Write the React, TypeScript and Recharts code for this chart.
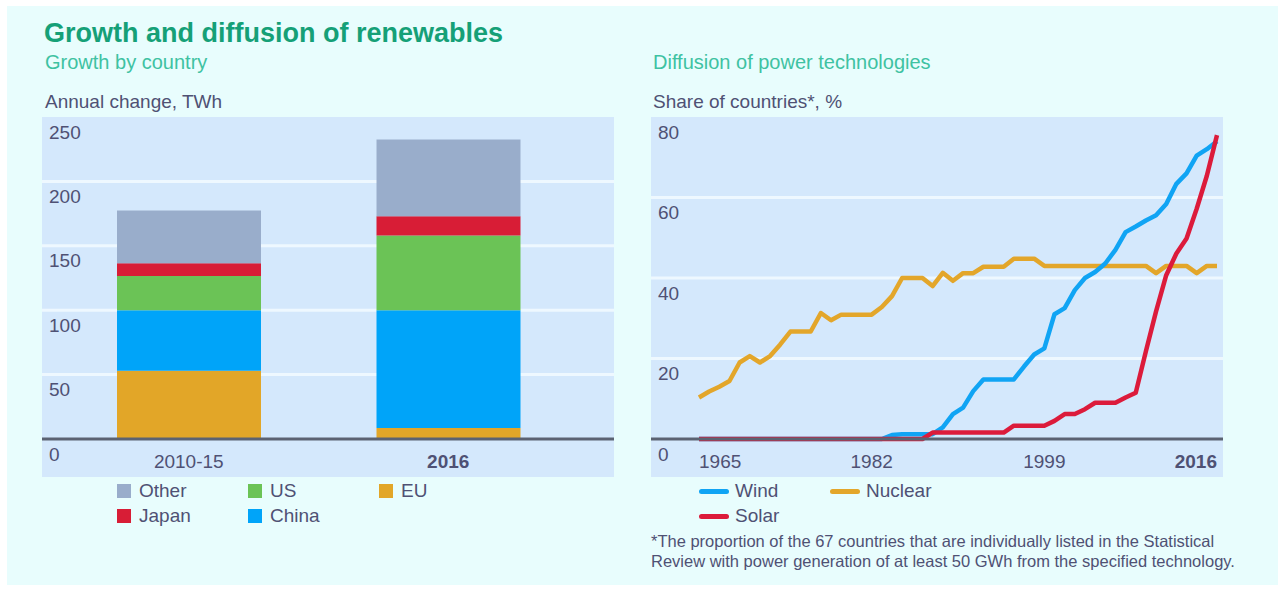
import React from 'react';
import {
  BarChart, Bar, LineChart, Line, XAxis, YAxis, CartesianGrid,
} from 'recharts';

// Growth by country, annual change in TWh
const periods = ['2010-15', '2016'];
const euValues = [53, 8.5];
const chinaValues = [47, 91.5];
const usValues = [26.5, 58];
const japanValues = [10, 15];
const otherValues = [41, 59.5];
const growthTicks = [0, 50, 100, 150, 200, 250];

// Diffusion of power technologies, share of countries (%)
const years = [
  1965, 1966, 1967, 1968, 1969, 1970, 1971, 1972, 1973, 1974, 1975, 1976, 1977,
  1978, 1979, 1980, 1981, 1982, 1983, 1984, 1985, 1986, 1987, 1988, 1989, 1990,
  1991, 1992, 1993, 1994, 1995, 1996, 1997, 1998, 1999, 2000, 2001, 2002, 2003,
  2004, 2005, 2006, 2007, 2008, 2009, 2010, 2011, 2012, 2013, 2014, 2015, 2016,
];
const nuclearShare = [
  10.3, 11.8, 13, 14.4, 19, 20.6, 19, 20.6, 23.5, 26.7, 26.7, 26.7, 31.3,
  29.5, 30.9, 30.9, 30.9, 30.9, 32.8, 35.5, 40, 40, 40, 38, 41.3, 39.3,
  41.2, 41.2, 42.8, 42.8, 42.8, 44.8, 44.8, 44.8, 43, 43, 43, 43, 43,
  43, 43, 43, 43, 43, 43, 41.2, 43, 43, 43, 41.2, 43, 43,
];
const windShare = [
  0, 0, 0, 0, 0, 0, 0, 0, 0, 0, 0, 0, 0,
  0, 0, 0, 0, 0, 0, 1, 1.2, 1.2, 1.2, 1.2, 2.9, 6.2,
  7.8, 11.9, 14.8, 14.8, 14.8, 14.8, 18, 21, 22.5, 31, 32.5, 37, 40,
  41.5, 43.6, 47, 51.4, 52.8, 54.3, 55.6, 58.4, 63.4, 66, 70.4, 72, 74,
];
const solarShare = [
  0, 0, 0, 0, 0, 0, 0, 0, 0, 0, 0, 0, 0,
  0, 0, 0, 0, 0, 0, 0, 0, 0, 0, 1.6, 1.6, 1.6,
  1.6, 1.6, 1.6, 1.6, 1.6, 3.3, 3.3, 3.3, 3.3, 4.5, 6.2, 6.2, 7.4,
  9, 9, 9, 10.3, 11.5, 21.8, 31.7, 40.7, 46.1, 49.8, 57.2, 65.4, 75.5,
];
const shareTicks = [0, 20, 40, 60, 80];
const yearTicks = [1965, 1982, 1999, 2016];

const growthData = periods.map((p, i) => ({
  period: p,
  EU: euValues[i],
  China: chinaValues[i],
  US: usValues[i],
  Japan: japanValues[i],
  Other: otherValues[i],
}));

const diffusionData = years.map((y, i) => ({
  year: y,
  Wind: windShare[i],
  Nuclear: nuclearShare[i],
  Solar: solarShare[i],
}));

const FONT = '"Liberation Sans", Arial, sans-serif';
const TEXT = '#4f5174';
const PANEL = '#d4e8fc';
const GRID = '#eef8ff';
const AXIS = '#5b6272';

const COLORS = {
  Other: '#99adcb',
  Japan: '#d81d36',
  US: '#6bc356',
  China: '#00a4f9',
  EU: '#e2a628',
  Wind: '#10a4f4',
  Nuclear: '#e3a62a',
  Solar: '#dc1b3b',
};

// value labels sit inside the panel, just under each gridline
const YTick = (props: any) => {
  const { y, payload } = props;
  return (
    <text x={7} y={Number(y) + 15} fill={TEXT} fontSize={19} fontFamily={FONT} dominantBaseline="central">
      {payload.value}
    </text>
  );
};

const CatTick = (props: any) => {
  const { x, payload } = props;
  const bold = payload.value === '2016';
  return (
    <text x={x} y={344} fill={TEXT} fontSize={19} fontFamily={FONT} textAnchor="middle"
      dominantBaseline="central" fontWeight={bold ? 'bold' : 'normal'}>
      {payload.value}
    </text>
  );
};

const YearTick = (props: any) => {
  const { x, payload, index } = props;
  const anchor = index === 0 ? 'start' : index === yearTicks.length - 1 ? 'end' : 'middle';
  const bold = payload.value === 2016;
  return (
    <text x={x} y={344} fill={TEXT} fontSize={19} fontFamily={FONT} textAnchor={anchor}
      dominantBaseline="central" fontWeight={bold ? 'bold' : 'normal'}>
      {payload.value}
    </text>
  );
};

const abs = (left: number, top: number, extra: React.CSSProperties = {}): React.CSSProperties => ({
  position: 'absolute', left, top, whiteSpace: 'nowrap', ...extra,
});

const Swatch = ({ left, top, color, label }: { left: number; top: number; color: string; label: string }) => (
  <div style={abs(left, top, { display: 'flex', alignItems: 'center', fontSize: 19, color: TEXT })}>
    <span style={{ width: 14, height: 14, background: color, display: 'inline-block', marginRight: 8 }} />
    {label}
  </div>
);

const LineSwatch = ({ left, top, color, label }: { left: number; top: number; color: string; label: string }) => (
  <div style={abs(left, top, { display: 'flex', alignItems: 'center', fontSize: 19, color: TEXT })}>
    <span style={{ width: 30, height: 5, borderRadius: 3, background: color, display: 'inline-block', marginRight: 6 }} />
    {label}
  </div>
);

export default function App() {
  return (
    <div style={{ position: 'absolute', left: 0, top: 0, width: 1278, height: 589, background: '#ffffff', fontFamily: FONT }}>
      <div style={abs(7, 6, { width: 1271, height: 579, background: '#e8fdfd' })} />

      <div style={abs(44, 18, { fontSize: 27, fontWeight: 'bold', color: '#15a077' })}>
        Growth and diffusion of renewables
      </div>
      <div style={abs(45, 51, { fontSize: 20, color: '#3ec2a2' })}>Growth by country</div>
      <div style={abs(653, 51, { fontSize: 20, color: '#3ec2a2' })}>Diffusion of power technologies</div>
      <div style={abs(45, 91, { fontSize: 19, color: TEXT })}>Annual change, TWh</div>
      <div style={abs(653, 91, { fontSize: 19, color: TEXT })}>Share of countries*, %</div>

      <div style={abs(42, 117, { width: 572, height: 360, background: PANEL })}>
        <BarChart width={572} height={360} data={growthData}
          margin={{ top: 0, right: 0, bottom: 0, left: 0 }}>
          <CartesianGrid vertical={false} stroke={GRID} strokeWidth={3}
            horizontalValues={[50, 100, 150, 200]} />
          <XAxis dataKey="period" height={38} tickLine={false} interval={0}
            padding={{ left: 17, right: 36 }}
            axisLine={{ stroke: AXIS, strokeWidth: 3 }} tick={<CatTick />} />
          <YAxis mirror width={40} domain={[0, 250]} ticks={growthTicks} interval={0}
            axisLine={false} tickLine={false} tick={<YTick />} />
          <Bar dataKey="EU" stackId="a" fill={COLORS.EU} barSize={144} isAnimationActive={false} />
          <Bar dataKey="China" stackId="a" fill={COLORS.China} barSize={144} isAnimationActive={false} />
          <Bar dataKey="US" stackId="a" fill={COLORS.US} barSize={144} isAnimationActive={false} />
          <Bar dataKey="Japan" stackId="a" fill={COLORS.Japan} barSize={144} isAnimationActive={false} />
          <Bar dataKey="Other" stackId="a" fill={COLORS.Other} barSize={144} isAnimationActive={false} />
        </BarChart>
      </div>

      <div style={abs(651, 117, { width: 572, height: 360, background: PANEL })}>
        <LineChart width={572} height={360} data={diffusionData}
          margin={{ top: 0, right: 0, bottom: 0, left: 0 }}>
          <CartesianGrid vertical={false} stroke={GRID} strokeWidth={3}
            horizontalValues={[20, 40, 60]} />
          <XAxis dataKey="year" type="number" domain={[1965, 2016]} ticks={yearTicks}
            height={38} tickLine={false} interval={0} padding={{ left: 48, right: 6 }}
            axisLine={{ stroke: AXIS, strokeWidth: 3 }} tick={<YearTick />} />
          <YAxis mirror width={40} domain={[0, 80]} ticks={shareTicks} interval={0}
            axisLine={false} tickLine={false} tick={<YTick />} />
          <Line type="linear" dataKey="Nuclear" stroke={COLORS.Nuclear} strokeWidth={4.5}
            dot={false} strokeLinejoin="round" isAnimationActive={false} />
          <Line type="linear" dataKey="Wind" stroke={COLORS.Wind} strokeWidth={4.5}
            dot={false} strokeLinejoin="round" isAnimationActive={false} />
          <Line type="linear" dataKey="Solar" stroke={COLORS.Solar} strokeWidth={4.5}
            dot={false} strokeLinejoin="round" isAnimationActive={false} />
        </LineChart>
      </div>

      <Swatch left={117} top={480} color={COLORS.Other} label="Other" />
      <Swatch left={248} top={480} color={COLORS.US} label="US" />
      <Swatch left={379} top={480} color={COLORS.EU} label="EU" />
      <Swatch left={117} top={505} color={COLORS.Japan} label="Japan" />
      <Swatch left={248} top={505} color={COLORS.China} label="China" />

      <LineSwatch left={699} top={480} color={COLORS.Wind} label="Wind" />
      <LineSwatch left={830} top={480} color={COLORS.Nuclear} label="Nuclear" />
      <LineSwatch left={699} top={505} color={COLORS.Solar} label="Solar" />

      <div style={abs(651, 531, { fontSize: 16.5, color: TEXT, lineHeight: '20px' })}>
        *The proportion of the 67 countries that are individually listed in the Statistical<br />
        Review with power generation of at least 50 GWh from the specified technology.
      </div>
    </div>
  );
}
